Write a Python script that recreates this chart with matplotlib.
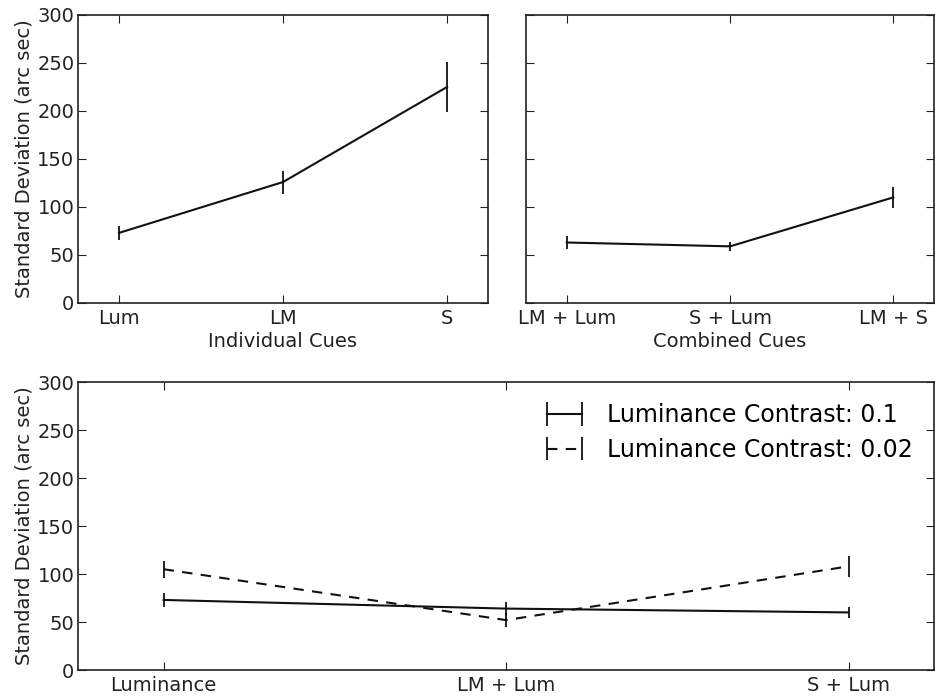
import matplotlib
matplotlib.use('Agg')
import matplotlib.pyplot as plt

# individual cues
ind_labels = ['Lum', 'LM', 'S']
ind_sd = [73, 126, 225]
ind_err = [7, 12, 26]

# combined cues
comb_labels = ['LM + Lum', 'S + Lum', 'LM + S']
comb_sd = [63, 59, 110]
comb_err = [7, 5, 11]

# luminance contrast comparison
lc_labels = ['Luminance', 'LM + Lum', 'S + Lum']
lc_high_sd = [73, 64, 60]
lc_high_err = [7, 7, 6]
lc_low_sd = [105, 52, 108]
lc_low_err = [9, 7, 11]

ylabel = 'Standard Deviation (arc sec)'
color = '#111111'

fig = plt.figure(figsize=(9.36, 6.97), dpi=100)
ax1 = fig.add_axes([0.0833, 0.5653, 0.4381, 0.4132])
ax2 = fig.add_axes([0.562, 0.5653, 0.436, 0.4132])
ax3 = fig.add_axes([0.0833, 0.0387, 0.9147, 0.4132])

def style(ax):
    ax.set_xlim(-0.25, 2.25)
    ax.set_ylim(0, 300)
    ax.set_yticks([0, 50, 100, 150, 200, 250, 300])
    ax.tick_params(direction='in', top=True, right=True, length=6,
                   labelsize=14, colors='#222222')
    ax.tick_params(axis='x', pad=4)
    ax.tick_params(axis='y', pad=2.5)
    for s in ax.spines.values():
        s.set_linewidth(1.2)
        s.set_color('#222222')

x = range(3)

ax1.errorbar(x, ind_sd, yerr=ind_err, color=color, lw=1.5, elinewidth=1.3, capsize=0)
style(ax1)
ax1.set_xticks(list(x))
ax1.set_xticklabels(ind_labels)
ax1.set_xlabel('Individual Cues', fontsize=14, color='#222222', labelpad=3)
ax1.set_ylabel(ylabel, fontsize=14, color='#222222', labelpad=3)

ax2.errorbar(x, comb_sd, yerr=comb_err, color=color, lw=1.5, elinewidth=1.3, capsize=0)
style(ax2)
ax2.set_xticks(list(x))
ax2.set_xticklabels(comb_labels)
ax2.set_yticklabels([])
ax2.set_xlabel('Combined Cues', fontsize=14, color='#222222', labelpad=3)

ax3.errorbar(x, lc_high_sd, yerr=lc_high_err, color=color, lw=1.5, elinewidth=1.3,
             capsize=0, label='Luminance Contrast: 0.1')
ax3.errorbar(x, lc_low_sd, yerr=lc_low_err, color=color, lw=1.5, elinewidth=1.3,
             capsize=0, linestyle=(0, (5, 4)), label='Luminance Contrast: 0.02')
style(ax3)
ax3.set_xticks(list(x))
ax3.set_xticklabels(lc_labels)
ax3.set_ylabel(ylabel, fontsize=14, color='#222222', labelpad=3)
ax3.legend(loc='upper right', frameon=False, numpoints=2, fontsize=17,
           handlelength=2.1, handletextpad=0.75, labelspacing=0.45)

plt.savefig('out.png', dpi=100)
